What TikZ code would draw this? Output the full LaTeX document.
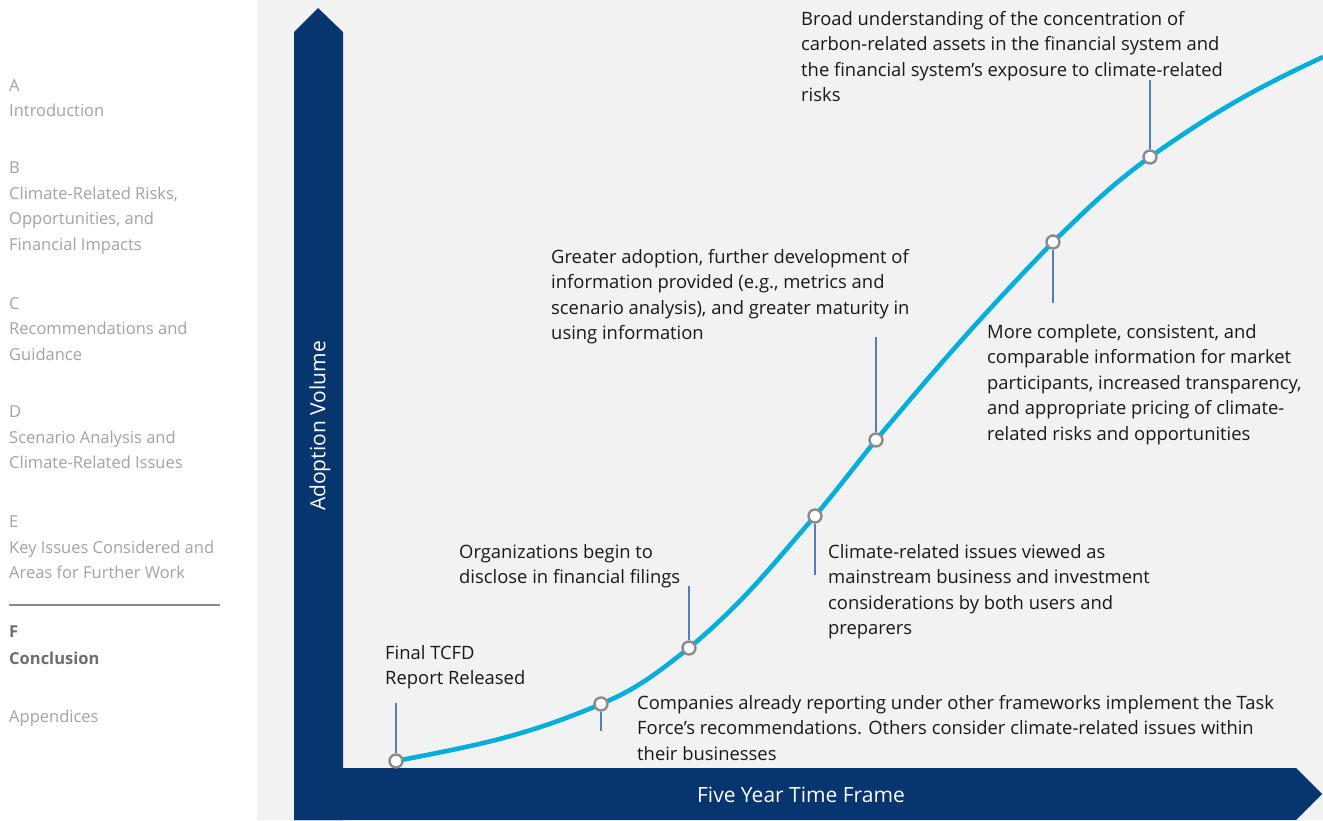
\documentclass[tikz,border=0pt]{standalone}
\usepackage{fontspec}
\setmainfont{Open Sans}
\usetikzlibrary{positioning}

\definecolor{navy}{HTML}{06356F}
\definecolor{curvecyan}{HTML}{00AEDB}
\definecolor{panelgray}{HTML}{F2F2F2}
\definecolor{leaderblue}{HTML}{4F7FBF}
\definecolor{ringgray}{HTML}{8C8C8C}
\definecolor{menugray}{HTML}{A3A3A3}
\definecolor{menudark}{HTML}{6E6E6E}

\begin{document}
\begin{tikzpicture}
    [
        x=1pt,y=-1pt,
        Menu/.style={anchor=north west,inner sep=0pt,align=left,text=menugray,font=\fontsize{16.5}{25.5}\selectfont},
        Label/.style={anchor=north west,inner sep=0pt,align=left,text=black!90,font=\fontsize{18.4}{25.5}\selectfont},
        Marker/.style={circle,draw=ringgray,line width=2.4pt,fill=white,minimum size=13pt,inner sep=0pt},
        Leader/.style={draw=leaderblue,line width=1.4pt},
        AxisText/.style={text=white,font=\fontsize{21}{24}\selectfont}
    ]
    \useasboundingbox (0,0) rectangle (1323,820);
    \fill[white] (0,0) rectangle (257,820);
    \fill[panelgray] (257,0) rectangle (1323,820);

    % side menu
    \node[Menu] (menuA) at (9,79) {A\\Introduction};
    \node[Menu] (menuB) at (9,162) {B\\Climate-Related Risks,\\Opportunities, and\\Financial Impacts};
    \node[Menu] (menuC) at (9,297) {C\\Recommendations and\\Guidance};
    \node[Menu] (menuD) at (9,406) {D\\Scenario Analysis and\\Climate-Related Issues};
    \node[Menu] (menuE) at (9,516) {E\\Key Issues Considered and\\Areas for Further Work};
    \draw[menudark!80,line width=2pt] (9,605) -- (220,605);
    \node[Menu,text=menudark,font=\fontsize{16.5}{27}\selectfont\bfseries] (menuF) at (9,626) {F\\Conclusion};
    \node[Menu] (menuApp) at (9,710) {Appendices};

    % axes
    \fill[navy] (294,820) -- (294,32) -- (318,8) -- (343,32) -- (343,820) -- cycle;
    \fill[navy] (294,768) -- (1296,768) -- (1322,794) -- (1296,820) -- (294,820) -- cycle;
    \node[AxisText] (xlabel) at (801,795) {Five Year Time Frame};
    \node[AxisText,rotate=90] (ylabel) at (320,426) {Adoption Volume};

    % adoption curve
    \coordinate (c1) at (396,761);
    \coordinate (c2) at (601,704);
    \coordinate (c3) at (689,648);
    \coordinate (c4) at (815,516);
    \coordinate (c5) at (876,440);
    \coordinate (c6) at (1053,242);
    \coordinate (c7) at (1150,157);
    \coordinate (cEnd) at (1323,57);
    \draw[curvecyan,line width=4.6pt]
        (c1) to[out=11,in=-157] (c2) to[out=23,in=-142] (c3)
        to[out=40,in=-131] (c4) to[out=50,in=-129] (c5)
        to[out=50,in=-134] (c6) to[out=44,in=-144] (c7)
        to[out=35,in=-155] (cEnd);

    \node[Marker] (m1) at (c1) {};
    \node[Marker] (m2) at (c2) {};
    \node[Marker] (m3) at (c3) {};
    \node[Marker] (m4) at (c4) {};
    \node[Marker] (m5) at (c5) {};
    \node[Marker] (m6) at (c6) {};
    \node[Marker] (m7) at (c7) {};

    \coordinate (t1) at (396,703);
    \coordinate (t2) at (601,731);
    \coordinate (t3) at (689,586);
    \coordinate (t4) at (815,575);
    \coordinate (t5) at (876,337);
    \coordinate (t6) at (1053,303);
    \coordinate (t7) at (1150,80);
    \foreach \i in {1,...,7}
        \draw[Leader] (m\i) -- (t\i);

    % milestone texts
    \node[Label] (finalReport) at (385,645) {Final TCFD\\Report Released};
    \node[Label] (companies) at (637,695) {Companies already reporting under other frameworks implement the Task\\Force’s recommendations. Others consider climate-related issues within\\their businesses};
    \node[Label] (organizations) at (459,544) {Organizations begin to\\disclose in financial filings};
    \node[Label] (mainstream) at (828,544) {Climate-related issues viewed as\\mainstream business and investment\\considerations by both users and\\preparers};
    \node[Label] (adoption) at (551,249) {Greater adoption, further development of\\information provided (e.g., metrics and\\scenario analysis), and greater maturity in\\using information};
    \node[Label] (consistent) at (987,324) {More complete, consistent, and\\comparable information for market\\participants, increased transparency,\\and appropriate pricing of climate-\\related risks and opportunities};
    \node[Label] (broad) at (801,11) {Broad understanding of the concentration of\\carbon-related assets in the financial system and\\the financial system’s exposure to climate-related\\risks};
\end{tikzpicture}
\end{document}
